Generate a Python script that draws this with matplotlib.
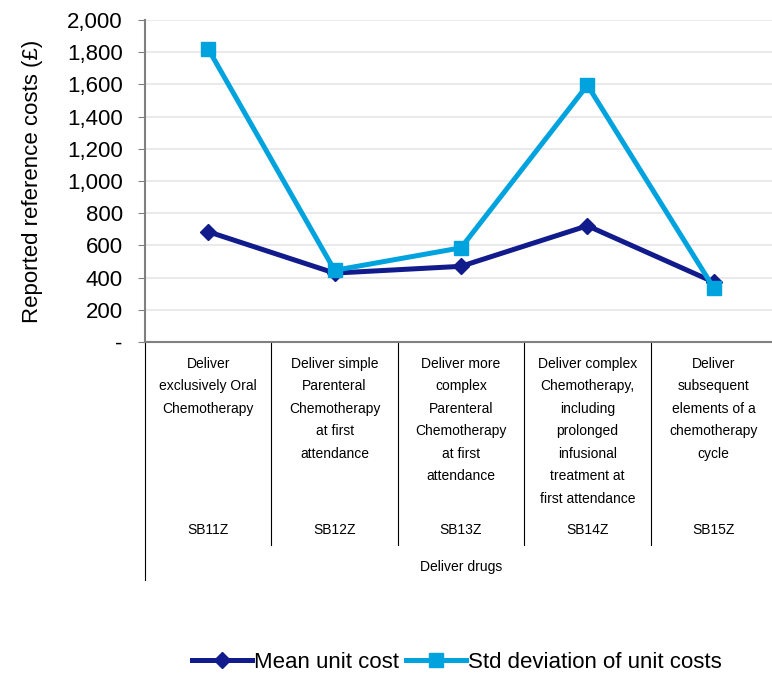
import numpy as np
import matplotlib.pyplot as plt
from matplotlib.ticker import FuncFormatter

plt.rcParams['font.family'] = ['Liberation Sans', 'DejaVu Sans']

categorias = ["Deliver\nexclusively Oral\nChemotherapy",
              "Deliver simple\nParenteral\nChemotherapy\nat first\nattendance",
              "Deliver more\ncomplex\nParenteral\nChemotherapy\nat first\nattendance",
              "Deliver complex\nChemotherapy,\nincluding\nprolonged\ninfusional\ntreatment at\nfirst attendance",
              "Deliver\nsubsequent\nelements of a\nchemotherapy\ncycle"]
codigos = ["SB11Z", "SB12Z", "SB13Z", "SB14Z", "SB15Z"]
grupo = "Deliver drugs"
media_coste = [685, 428, 470, 722, 372]
desv_coste = [1820, 445, 585, 1595, 335]

W, H = 772, 673
fig = plt.figure(figsize=(W / 100, H / 100), dpi=100)
x0, x1, ytop, ybot = 145, 777, 20, 342
ax = fig.add_axes([x0 / W, 1 - ybot / H, (x1 - x0) / W, (ybot - ytop) / H])

x = np.arange(len(codigos))
ax.plot(x, media_coste, color='#111b8c', lw=3.6, marker='D', ms=8,
        label='Mean unit cost', zorder=3)
ax.plot(x, desv_coste, color='#00a3dd', lw=3.6, marker='s', ms=10,
        label='Std deviation of unit costs', zorder=4)

ax.set_xlim(-0.5, 4.5)
ax.set_ylim(0, 2000)
ax.set_yticks(np.arange(0, 2001, 200))
ax.yaxis.set_major_formatter(FuncFormatter(lambda v, p: '-' if v == 0 else f'{v:,.0f}'))
ax.tick_params(axis='y', labelsize=16, length=5, color='#808080', direction='out', pad=11)
ax.set_xticks([])
ax.grid(axis='y', color='#e6e6e6', lw=1.2)
ax.set_axisbelow(True)
for s in ['top', 'right']:
    ax.spines[s].set_visible(False)
ax.spines['left'].set_color('#808080')
ax.spines['bottom'].set_color('#808080')
ax.spines['left'].set_linewidth(1.5)
ax.spines['bottom'].set_linewidth(1.5)
ax.set_ylabel('Reported reference costs (£)', fontsize=16, labelpad=17)

# tabla de categorias bajo el eje
alto = ybot - ytop
def ya(py):
    return (ybot - py) / alto

tr = ax.get_xaxis_transform()
for b in np.arange(0.5, 4.5, 1):
    ax.plot([b, b], [0, ya(545)], transform=tr, color='black', lw=0.8, clip_on=False)
ax.plot([-0.5, -0.5], [0, ya(580)], transform=tr, color='black', lw=0.8, clip_on=False)

for i in range(len(codigos)):
    ax.text(i, ya(357), categorias[i], transform=tr, ha='center', va='top',
            fontsize=10, linespacing=1.77, multialignment='center')
    ax.text(i, ya(530), codigos[i], transform=tr, ha='center', va='center', fontsize=10)
ax.text(2, ya(567), grupo, transform=tr, ha='center', va='center', fontsize=10)

fig.legend(loc='center', bbox_to_anchor=(457 / W, 1 - 662 / H), ncol=2, frameon=False,
           fontsize=16, handlelength=2.7, handletextpad=0.1, columnspacing=0.3)

fig.savefig('out.png', dpi=100)
